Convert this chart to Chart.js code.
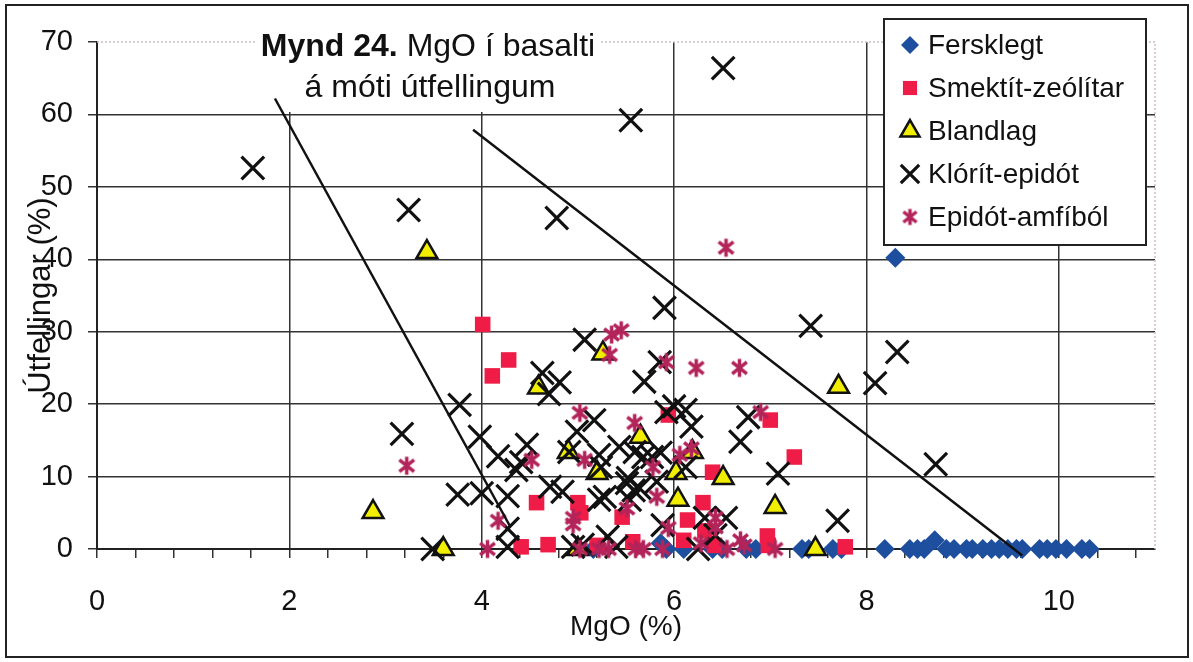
<!DOCTYPE html>
<html lang="is">
<head>
<meta charset="utf-8"/>
<title>Mynd 24. MgO í basalti á móti útfellingum</title>
<script src="https://cdn.jsdelivr.net/npm/chart.js@4"></script>
<style>
  body { margin: 0; background: #fff; }
  #wrap { position: absolute; left: 0; top: 0; width: 1193px; height: 662px; }
  .frame {
    position: absolute; left: 5px; top: 4px; width: 1180px; height: 650px;
    border: 2px solid #222; pointer-events: none;
  }
</style>
</head>
<body>
<div id="wrap"><canvas id="chart"></canvas></div>
<div class="frame"></div>
<script>
// MgO (%) and útfellingar (%) for each alteration zone
const seriesNames = ['Fersklegt', 'Smektít-zeólítar', 'Blandlag', 'Klórít-epidót', 'Epidót-amfíból'];

const fersklegtMgO = [8.3, 5.16, 5.86, 5.92, 6.1, 6.4, 6.5, 6.75, 6.85, 7.33, 7.4, 7.65, 7.74, 8.19, 8.45,
  8.53, 8.6, 8.71, 8.83, 8.91, 9.04, 9.1, 9.21, 9.3, 9.38, 9.47, 9.56, 9.62, 9.8, 9.88, 9.97, 10.08, 10.24, 10.32];
const fersklegtUtf = [40.2, 0, 0.8, 0, 0, 0, 0, 0, 0, 0, 0, 0, 0, 0, 0,
  0, 0, 1.2, 0, 0, 0, 0, 0, 0, 0, 0, 0, 0, 0, 0, 0, 0, 0, 0];

const smektitMgO = [4.01, 4.11, 4.28, 4.57, 4.41, 4.69, 5.0, 5.03, 5.2, 5.46, 5.57, 5.94, 6.1, 6.14,
  6.3, 6.32, 6.4, 6.42, 6.97, 6.98, 7.0, 7.25, 7.78];
const smektitUtf = [31.0, 23.9, 26.1, 6.4, 0.3, 0.6, 6.4, 5.0, 0.5, 4.4, 1.0, 18.5, 1.2, 4.0,
  6.4, 2.5, 10.6, 0.5, 1.8, 0.5, 17.8, 12.7, 0.3];

const blandlagMgO = [2.87, 3.43, 3.6, 4.59, 4.9, 5.0, 5.2, 5.26, 5.65, 6.02, 6.04, 6.19, 6.51, 7.05, 7.47, 7.71];
const blandlagUtf = [5.1, 41.0, 0, 22.3, 13.4, 0, 10.5, 27.0, 15.5, 10.5, 6.8, 13.4, 9.8, 5.8, 0, 22.4];

const kloritMgO = [1.62, 3.24, 4.78, 5.55, 6.51, 5.9, 7.42, 8.32, 8.09, 8.72, 7.7, 7.08, 3.17, 3.77,
  3.75, 3.49, 3.98, 4.17, 4.0, 4.27, 4.27, 4.27, 4.36, 4.47, 4.63, 4.81, 4.7, 5.07, 5.69, 5.85,
  5.92, 5.17, 4.99, 4.91, 5.22, 5.43, 5.59, 5.77, 4.71, 4.84, 5.22, 5.51, 5.58, 5.54, 5.82, 4.41,
  4.95, 5.05, 5.31, 5.4, 6.0, 6.12, 6.18, 5.68, 5.86, 6.12, 5.24, 5.52, 5.64, 5.28, 5.88, 6.32,
  6.54, 6.43, 6.25, 6.77, 6.69];
const kloritUtf = [52.6, 46.8, 45.7, 59.2, 66.4, 33.3, 30.8, 27.2, 22.9, 11.7, 3.9, 10.4, 15.9, 19.9,
  7.5, 0, 15.5, 12.8, 7.7, 7.3, 2.8, 0.3, 10.9, 14.4, 24.3, 23.0, 21.4, 28.9, 23.1, 25.8,
  18.9, 17.8, 16.2, 13.4, 13.0, 14.1, 13.4, 12.7, 8.6, 7.9, 6.8, 9.1, 8.1, 6.8, 9.3, 12.0,
  0.3, 0.6, 1.7, 0.3, 19.7, 19.2, 16.9, 12.7, 13.3, 11.3, 11.3, 9.8, 8.4, 7.2, 3.3, 4.3,
  4.3, 1.9, 0, 18.2, 14.8];

const epidotMgO = [3.22, 6.54, 5.45, 5.35, 5.33, 5.92, 6.23, 6.68, 6.9, 5.02, 5.59, 4.17, 4.06, 4.52,
  5.07, 5.78, 5.82, 4.95, 4.95, 5.51, 5.02, 5.22, 5.32, 5.6, 5.68, 5.88, 6.18, 6.06, 5.94, 6.43,
  6.43, 6.69, 6.55, 6.73, 7.05, 6.28];
const epidotUtf = [11.5, 41.6, 30.2, 29.6, 26.8, 25.8, 25.0, 25.0, 18.9, 18.8, 17.4, 3.9, 0, 12.3,
  12.3, 11.3, 7.2, 4.3, 3.4, 5.6, 0, 0, 0, 0, 0, 0, 13.9, 13.0, 2.9, 4.3,
  3.0, 1.2, 0, 0.5, 0, 0.8];

// the two boundary lines
const leftLineMgO = [1.85, 4.3];
const leftLineUtf = [62.2, 3.0];
const rightLineMgO = [3.91, 9.62];
const rightLineUtf = [57.9, -0.9];

const xMajorTicks = [0, 2, 4, 6, 8, 10];

const FONT = '"Liberation Sans", Arial, sans-serif';

function toPoints(xs, ys) {
  return xs.map((x, i) => ({ x: x, y: ys[i] }));
}

// six-armed asterisk marker
function makeAsterisk(size, width) {
  const c = document.createElement('canvas');
  c.width = size; c.height = size;
  const g = c.getContext('2d');
  const m = size / 2, r = size / 2 - 1.5, d = r * 0.82;
  g.strokeStyle = '#b3245a';
  g.lineWidth = width;
  g.beginPath();
  g.moveTo(m, m - r); g.lineTo(m, m + r);
  g.moveTo(m - d, m - d * 0.8); g.lineTo(m + d, m + d * 0.8);
  g.moveTo(m + d, m - d * 0.8); g.lineTo(m - d, m + d * 0.8);
  g.stroke();
  return c;
}
const asterisk = makeAsterisk(21, 3.5);
const asteriskSmall = makeAsterisk(19, 3.5);

const markers = [
  { pointStyle: 'rectRot', pointRadius: 10, pointBorderWidth: 0, pointBackgroundColor: '#1e4f9e', pointBorderColor: '#1e4f9e' },
  { pointStyle: 'rect', pointRadius: 11, pointBorderWidth: 0, pointBackgroundColor: '#ee1c47', pointBorderColor: '#ee1c47' },
  { pointStyle: 'triangle', pointRadius: 12, pointBorderWidth: 2.5, pointBackgroundColor: '#f2ee00', pointBorderColor: '#111' },
  { pointStyle: 'crossRot', pointRadius: 16, pointBorderWidth: 3.2, pointBackgroundColor: '#111', pointBorderColor: '#111' },
  { pointStyle: asterisk, pointRadius: 10, pointBorderWidth: 0, pointBackgroundColor: '#b3245a', pointBorderColor: '#b3245a' }
];

const seriesData = [
  toPoints(fersklegtMgO, fersklegtUtf),
  toPoints(smektitMgO, smektitUtf),
  toPoints(blandlagMgO, blandlagUtf),
  toPoints(kloritMgO, kloritUtf),
  toPoints(epidotMgO, epidotUtf)
];

const datasets = seriesData.map((pts, i) => Object.assign({
  label: seriesNames[i],
  data: pts,
  showLine: false,
  clip: false,
  order: 5 - i
}, markers[i]));

[[leftLineMgO, leftLineUtf], [rightLineMgO, rightLineUtf]].forEach(([xs, ys]) => {
  datasets.push({
    label: '',
    data: toPoints(xs, ys),
    showLine: true,
    borderColor: '#111',
    borderWidth: 2.5,
    pointRadius: 0,
    clip: false,
    order: 0
  });
});

// title box, faint frame edges and the legend
const figureText = {
  id: 'figureText',
  beforeDatasetsDraw(chart) {
    const { ctx, chartArea: a } = chart;
    ctx.save();
    ctx.strokeStyle = '#cdbfc6';
    ctx.lineWidth = 1.5;
    ctx.setLineDash([2, 2]);
    ctx.beginPath();
    ctx.moveTo(a.left, a.top);
    ctx.lineTo(a.right, a.top);
    ctx.lineTo(a.right, a.bottom);
    ctx.stroke();
    ctx.setLineDash([]);

    ctx.fillStyle = '#fff';
    ctx.fillRect(255, 22, 346, 90);
    ctx.fillStyle = '#111';
    ctx.textBaseline = 'alphabetic';
    const bold = 'Mynd 24.';
    const rest = ' MgO í basalti';
    ctx.font = 'bold 32px ' + FONT;
    const wb = ctx.measureText(bold).width;
    ctx.font = '32px ' + FONT;
    const wr = ctx.measureText(rest).width;
    const x0 = 428 - (wb + wr) / 2;
    ctx.textAlign = 'left';
    ctx.font = 'bold 32px ' + FONT;
    ctx.fillText(bold, x0, 56);
    ctx.font = '32px ' + FONT;
    ctx.fillText(rest, x0 + wb, 56);
    ctx.textAlign = 'center';
    ctx.fillText('á móti útfellingum', 430, 97);
    ctx.restore();
  },
  afterDatasetsDraw(chart) {
    const ctx = chart.ctx;
    ctx.save();
    ctx.fillStyle = '#fff';
    ctx.strokeStyle = '#222';
    ctx.lineWidth = 2;
    ctx.fillRect(884, 19, 262, 226);
    ctx.strokeRect(884, 19, 262, 226);
    const rows = [45, 88, 131, 174, 217];
    const sizes = [9, 10, 11, 13, 9];
    ctx.font = '28px ' + FONT;
    ctx.textBaseline = 'middle';
    ctx.textAlign = 'left';
    seriesNames.forEach((name, i) => {
      const m = markers[i];
      ctx.fillStyle = m.pointBackgroundColor;
      ctx.strokeStyle = m.pointBorderColor;
      ctx.lineWidth = m.pointBorderWidth;
      Chart.helpers.drawPoint(ctx, {
        pointStyle: i === 4 ? asteriskSmall : m.pointStyle,
        radius: sizes[i], borderWidth: m.pointBorderWidth, rotation: 0
      }, 910, rows[i]);
      ctx.fillStyle = '#111';
      ctx.fillText(name, 928, rows[i] + 1);
    });
    ctx.restore();
  }
};

const isMajor = v => xMajorTicks.some(t => Math.abs(t - v) < 1e-6);

new Chart(document.getElementById('chart'), {
  type: 'scatter',
  data: { datasets: datasets },
  plugins: [figureText],
  options: {
    responsive: true,
    maintainAspectRatio: false,
    animation: false,
    devicePixelRatio: 1,
    layout: { padding: { top: 42, right: 38, left: 0, bottom: 0 } },
    plugins: {
      legend: { display: false },
      tooltip: { enabled: false }
    },
    scales: {
      x: {
        type: 'linear',
        min: 0,
        max: 11,
        afterFit: s => { s.height = 113; },
        ticks: {
          stepSize: 0.4,
          includeBounds: false,
          autoSkip: false,
          maxRotation: 0,
          padding: 27,
          color: '#111',
          font: { family: FONT, size: 29 },
          callback: v => isMajor(v) ? String(Math.round(v)) : ''
        },
        grid: {
          color: c => (c.tick && isMajor(c.tick.value) && c.tick.value > 0) ? '#333' : 'transparent',
          lineWidth: 1.5,
          tickColor: '#333',
          tickLength: 9,
          tickWidth: 1.5
        },
        border: { color: '#222', width: 2 },
        title: {
          display: true,
          text: 'MgO (%)',
          color: '#111',
          font: { family: FONT, size: 28 },
          padding: { top: 0, bottom: 18 }
        }
      },
      y: {
        type: 'linear',
        min: 0,
        max: 70,
        afterFit: s => { s.width = 97; },
        ticks: {
          stepSize: 10,
          padding: 15,
          color: '#111',
          font: { family: FONT, size: 29 }
        },
        grid: {
          color: c => (c.tick && c.tick.value >= 70) ? 'transparent' : '#333',
          lineWidth: 1.5,
          tickColor: '#333',
          tickLength: 9,
          tickWidth: 1.5
        },
        border: { color: '#222', width: 2 },
        title: {
          display: true,
          text: 'Útfellingar (%)',
          color: '#111',
          font: { family: FONT, size: 31 },
          padding: { top: 23, bottom: 0 }
        }
      }
    }
  }
});
</script>
</body>
</html>
